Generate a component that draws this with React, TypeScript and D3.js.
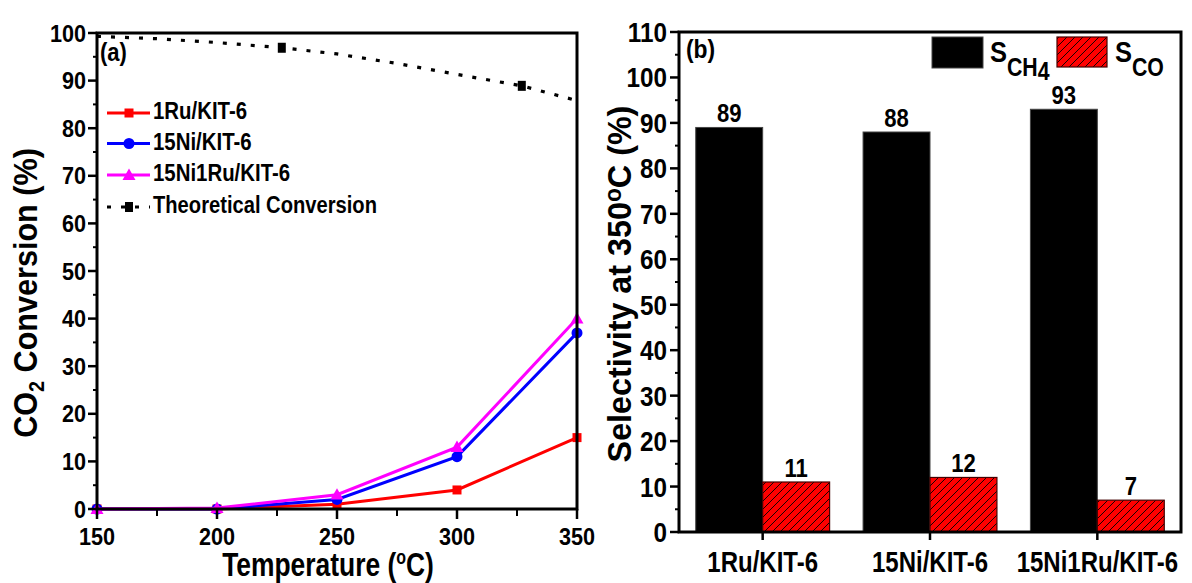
import React from "react";
import * as d3 from "d3";

// ---- Panel (a) data ----
const temps = [150, 200, 250, 300, 350];
const ru1 = [0, 0, 1, 4, 15];
const ni15 = [0, 0, 2, 11, 37];
const ni15ru1 = [0, 0.2, 3, 13, 40];
const theoTemps = [150, 175, 200, 227, 250, 275, 300, 327, 350];
const theoVals = [99.3, 98.8, 98.0, 96.9, 95.6, 93.6, 91.3, 88.9, 85.8];
const theoMarkerTemps = [227, 327];
const theoMarkerVals = [96.9, 88.9];
const xTicksA = [150, 200, 250, 300, 350];
const xMinorA = [175, 225, 275, 325];
const yTicksA = [0, 10, 20, 30, 40, 50, 60, 70, 80, 90, 100];
const seriesNames = ["1Ru/KIT-6", "15Ni/KIT-6", "15Ni1Ru/KIT-6"];
const seriesColors = ["#ff0000", "#0000ff", "#ff00ff"];

// ---- Panel (b) data ----
const categories = ["1Ru/KIT-6", "15Ni/KIT-6", "15Ni1Ru/KIT-6"];
const sCH4 = [89, 88, 93];
const sCO = [11, 12, 7];
const yTicksB = [0, 10, 20, 30, 40, 50, 60, 70, 80, 90, 100, 110];

const FONT = "'Liberation Sans', Arial, Helvetica, sans-serif";

function T({ x, y, size, sx = 0.88, anchor = "middle", rotate = 0, children, fill = "#000" }: any) {
  return (
    <text
      transform={`translate(${x},${y}) rotate(${rotate}) scale(${sx},1)`}
      fontSize={size}
      textAnchor={anchor}
      fontFamily={FONT}
      fontWeight="bold"
      fill={fill}
    >
      {children}
    </text>
  );
}

function Marker({ kind, x, y, color }: any) {
  if (kind === 0) return <rect x={x - 4.5} y={y - 4.5} width={9} height={9} fill={color} />;
  if (kind === 1) return <circle cx={x} cy={y} r={5.5} fill={color} />;
  const s = 6.5;
  return <path d={`M${x},${y - s} L${x + s},${y + s * 0.75} L${x - s},${y + s * 0.75} Z`} fill={color} />;
}

export default function App() {
  // Panel (a) scales
  const xa = d3.scaleLinear().domain([150, 350]).range([97, 577]);
  const ya = d3.scaleLinear().domain([0, 100]).range([509, 33]);
  const line = d3.line<[number, number]>().x((d) => xa(d[0])).y((d) => ya(d[1]));
  const allSeries = [ru1, ni15, ni15ru1];
  const theoPts = theoTemps.map((t, i) => [t, theoVals[i]] as [number, number]);

  // Panel (b) scales
  const xb = d3.scaleLinear().domain([0.5, 3.5]).range([679, 1181]);
  const yb = d3.scaleLinear().domain([0, 110]).range([532, 32]);
  const bw = 0.4;

  const yMinorA = d3.range(5, 100, 10);
  const yMinorB = d3.range(5, 110, 10);

  return (
    <svg
      width={1192}
      height={583}
      style={{ position: "absolute", left: 0, top: 0, background: "#fff" }}
    >
      <defs>
        <pattern id="hatch" width={8} height={8} patternUnits="userSpaceOnUse">
          <rect width={8} height={8} fill="#ff0000" />
          <path d="M-2,2 L2,-2 M0,8 L8,0 M6,10 L10,6" stroke="#000" strokeWidth={0.9} />
        </pattern>
      </defs>
      <rect x={0} y={0} width={1192} height={583} fill="#fff" />

      {/* ================= Panel (a) ================= */}
      <path d={line(theoPts) || ""} fill="none" stroke="#000" strokeWidth={3.2} strokeDasharray="4 10" />
      {theoMarkerTemps.map((t, i) => (
        <rect key={i} x={xa(t) - 4} y={ya(theoMarkerVals[i]) - 5} width={8} height={10} fill="#000" />
      ))}
      {allSeries.map((s, si) => (
        <g key={si}>
          <path
            d={line(temps.map((t, i) => [t, s[i]] as [number, number])) || ""}
            fill="none"
            stroke={seriesColors[si]}
            strokeWidth={3}
          />
          {temps.map((t, i) => (
            <Marker key={i} kind={si} x={xa(t)} y={ya(s[i])} color={seriesColors[si]} />
          ))}
        </g>
      ))}

      <rect x={97} y={33} width={480} height={476} fill="none" stroke="#000" strokeWidth={3} />
      {yTicksA.map((v) => (
        <g key={v}>
          <line x1={88} x2={97} y1={ya(v)} y2={ya(v)} stroke="#000" strokeWidth={2.5} />
          <T x={86} y={ya(v) + 8.5} size={24} sx={0.9} anchor="end">{v}</T>
        </g>
      ))}
      {yMinorA.map((v) => (
        <line key={v} x1={93} x2={97} y1={ya(v)} y2={ya(v)} stroke="#000" strokeWidth={2} />
      ))}
      {xTicksA.map((v) => (
        <g key={v}>
          <line x1={xa(v)} x2={xa(v)} y1={509} y2={519} stroke="#000" strokeWidth={2.5} />
          <T x={xa(v)} y={545} size={24} sx={0.9}>{v}</T>
        </g>
      ))}
      {xMinorA.map((v) => (
        <line key={v} x1={xa(v)} x2={xa(v)} y1={509} y2={516} stroke="#000" strokeWidth={2} />
      ))}
      <T x={328} y={576} size={33} sx={0.8}>
        Temperature (<tspan fontSize={20} dy={-12}>o</tspan><tspan dy={12}>C)</tspan>
      </T>
      <T x={37} y={293} size={34} sx={0.9} rotate={-90}>
        CO<tspan fontSize={22} dy={7}>2</tspan><tspan dy={-7}> Conversion (%)</tspan>
      </T>
      <T x={100} y={61} size={25} sx={0.88} anchor="start">(a)</T>

      {seriesNames.map((n, i) => {
        const ry = [113, 143.5, 175][i];
        return (
          <g key={n}>
            <line x1={107} x2={150} y1={ry} y2={ry} stroke={seriesColors[i]} strokeWidth={3} />
            <Marker kind={i} x={129} y={ry} color={seriesColors[i]} />
            <T x={153} y={ry + 6} size={24} sx={0.85} anchor="start">{n}</T>
          </g>
        );
      })}
      <g>
        <line x1={107} x2={150} y1={207} y2={207} stroke="#000" strokeWidth={3.2} strokeDasharray="4 10" />
        <rect x={125} y={202} width={8} height={10} fill="#000" />
        <T x={153} y={213} size={24} sx={0.84} anchor="start">Theoretical Conversion</T>
      </g>

      {/* ================= Panel (b) ================= */}
      {categories.map((c, i) => {
        const cx = i + 1;
        return (
          <g key={c}>
            <rect
              x={xb(cx - bw)}
              y={yb(sCH4[i])}
              width={xb(cx) - xb(cx - bw)}
              height={yb(0) - yb(sCH4[i])}
              fill="#000"
              stroke="#444"
              strokeWidth={1}
            />
            <rect
              x={xb(cx)}
              y={yb(sCO[i])}
              width={xb(cx + bw) - xb(cx)}
              height={yb(0) - yb(sCO[i])}
              fill="url(#hatch)"
              stroke="#400"
              strokeWidth={1.2}
            />
            <T x={xb(cx - bw / 2)} y={yb(sCH4[i]) - 5} size={26} sx={0.85}>{sCH4[i]}</T>
            <T x={xb(cx + bw / 2)} y={yb(sCO[i]) - 5} size={26} sx={0.85}>{sCO[i]}</T>
            <line x1={xb(cx)} x2={xb(cx)} y1={532} y2={540} stroke="#000" strokeWidth={2.5} />
            <T x={xb(cx)} y={572} size={30} sx={0.8}>{c}</T>
          </g>
        );
      })}
      <rect x={679} y={32} width={502} height={500} fill="none" stroke="#000" strokeWidth={3} />
      {yTicksB.map((v) => (
        <g key={v}>
          <line x1={670} x2={679} y1={yb(v)} y2={yb(v)} stroke="#000" strokeWidth={2.5} />
          <T x={667} y={yb(v) + 10} size={27} sx={0.9} anchor="end">{v}</T>
        </g>
      ))}
      {yMinorB.map((v) => (
        <line key={v} x1={675} x2={679} y1={yb(v)} y2={yb(v)} stroke="#000" strokeWidth={2} />
      ))}
      <T x={631} y={284} size={34} sx={0.95} rotate={-90}>
        Selectivity at 350<tspan fontSize={24} dy={-10}>o</tspan><tspan dy={10}>C (%)</tspan>
      </T>
      <T x={686} y={58} size={26} sx={0.88} anchor="start">(b)</T>

      <rect x={932} y={37} width={51} height={31} fill="#000" stroke="#444" strokeWidth={1} />
      <T x={990} y={62} size={30} sx={0.85} anchor="start">
        S<tspan fontSize={25} dy={14}>CH</tspan><tspan fontSize={25} dy={4}>4</tspan>
      </T>
      <rect x={1057} y={37} width={50} height={30} fill="url(#hatch)" stroke="#400" strokeWidth={1.2} />
      <T x={1115} y={62} size={30} sx={0.85} anchor="start">
        S<tspan fontSize={25} dy={14}>CO</tspan>
      </T>
    </svg>
  );
}
